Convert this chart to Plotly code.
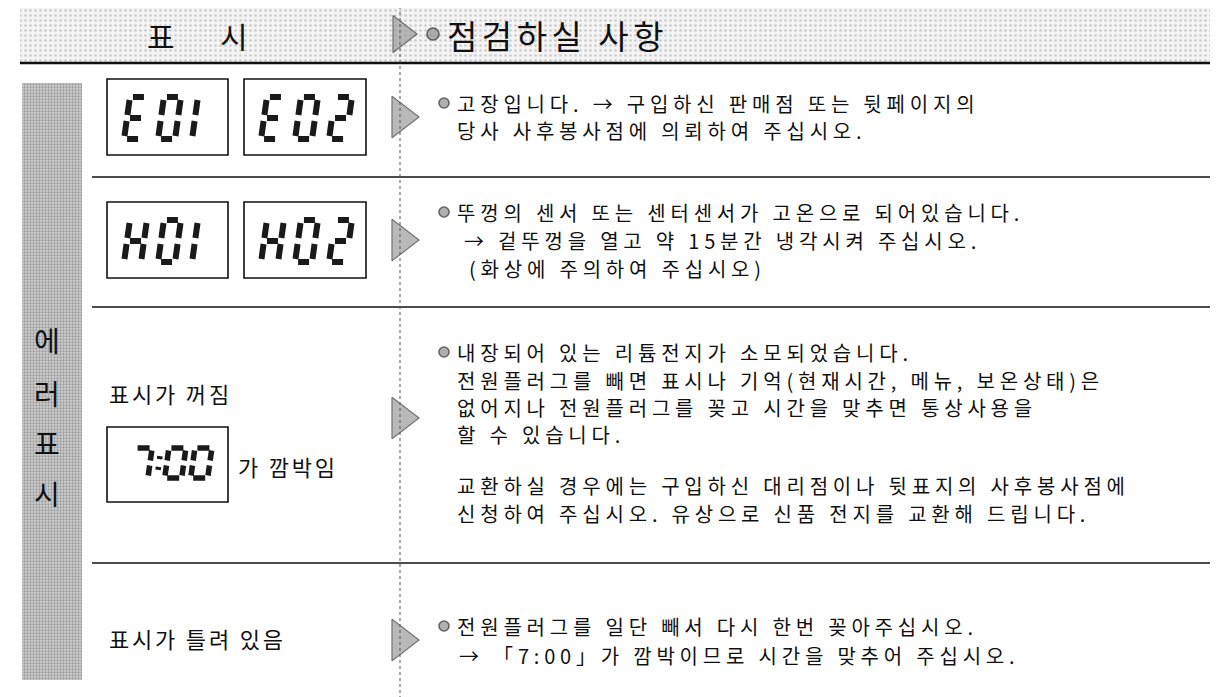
import plotly.graph_objects as go

# ---------------- data (texts) ----------------
header_left = ["표", "시"]
header_right = "점검하실 사항"
band_label = ["에", "러", "표", "시"]

lcd_row1 = ["E01", "E02"]
lcd_row2 = ["H01", "H02"]
lcd_row3 = ["7:00"]

row3_label = "표시가 꺼짐"
row3_suffix = "가 깜박임"
row4_label = "표시가 틀려 있음"

row1_text = ["고장입니다. → 구입하신 판매점 또는 뒷페이지의",
             "당사 사후봉사점에 의뢰하여 주십시오."]
row2_text = ["뚜껑의 센서 또는 센터센서가 고온으로 되어있습니다.",
             "→ 겉뚜껑을 열고 약 15분간 냉각시켜 주십시오.",
             "(화상에 주의하여 주십시오)"]
row3_text = ["내장되어 있는 리튬전지가 소모되었습니다.",
             "전원플러그를 빼면 표시나 기억(현재시간, 메뉴, 보온상태)은",
             "없어지나 전원플러그를 꽂고 시간을 맞추면 통상사용을",
             "할 수 있습니다.",
             "교환하실 경우에는 구입하신 대리점이나 뒷표지의 사후봉사점에",
             "신청하여 주십시오. 유상으로 신품 전지를 교환해 드립니다."]
row4_text = ["전원플러그를 일단 빼서 다시 한번 꽂아주십시오.",
             "→ 「7:00」가 깜박이므로 시간을 맞추어 주십시오."]

# ---------------- layout constants ----------------
W, H = 1222, 697
OFF = 8                      # page body margin: data coords == page pixels
FONT = "Noto Sans CJK KR"
TXT = "#111111"
BODY = 20
BODY_LS = 4.8

fig = go.Figure()

# textured bands (pattern-filled bars)
fig.add_trace(go.Bar(x=[615], y=[57], base=[5], width=[1190],
                     marker=dict(color="#f3f3f3", line=dict(width=0),
                                 pattern=dict(shape=".", fgcolor="#a0a0a0", bgcolor="#f4f4f4",
                                              size=5, solidity=0.22)),
                     hoverinfo="skip", showlegend=False))
fig.add_trace(go.Bar(x=[52], y=[597], base=[83], width=[60],
                     marker=dict(color="#c6c6c6", line=dict(width=0),
                                 pattern=dict(shape=".", fgcolor="#6a6a6a", bgcolor="#cfcfcf",
                                              size=3, solidity=0.45)),
                     hoverinfo="skip", showlegend=False))

shapes = []
def hline(y, x0, x1, w):
    shapes.append(dict(type="line", x0=x0, x1=x1, y0=y, y1=y, line=dict(color="#111", width=w)))

hline(4, 20, 1210, 3)
hline(63, 20, 1210, 2.5)
for y in (177, 307, 563):
    hline(y, 92, 1210, 1.6)
shapes.append(dict(type="line", x0=400, x1=400, y0=0, y1=H,
                   line=dict(color="#555", width=1, dash="dot")))

# LCD boxes
boxes = [(107, 228, 79, 155), (244, 366, 79, 155),
         (107, 228, 202, 278), (244, 366, 202, 278),
         (107, 228, 427, 502)]
for x0, x1, y0, y1 in boxes:
    shapes.append(dict(type="rect", x0=x0, x1=x1, y0=y0, y1=y1,
                       line=dict(color="#111", width=1.6), fillcolor="rgba(0,0,0,0)"))

# seven-segment rendering
SEGS = {"0": "abcdef", "1": "ef", "2": "abged", "7": "abc", "E": "adefg", "H": "bcefg"}
def seven_seg(text, x_start, pitch, yc, w, h, slant=0.14, gap=3):
    xs, ys = [], []
    top, mid, bot = yc - h / 2, yc, yc + h / 2
    def P(u, y, cx):
        return cx + u + slant * (yc - y), y
    cx = x_start
    for ch in text:
        if ch == ":":
            for yy in (yc - h * 0.18, yc + h * 0.18):
                a = P(0, yy - 1.5, cx); b = P(0, yy + 1.5, cx)
                xs += [a[0], b[0], None]; ys += [a[1], b[1], None]
            cx += pitch * 0.3
            continue
        segdef = {
            "a": ((gap, top), (w - gap, top)),
            "b": ((w, top + gap), (w, mid - gap)),
            "c": ((w, mid + gap), (w, bot - gap)),
            "d": ((gap, bot), (w - gap, bot)),
            "e": ((0, mid + gap), (0, bot - gap)),
            "f": ((0, top + gap), (0, mid - gap)),
            "g": ((gap, mid), (w - gap, mid)),
        }
        for s in SEGS.get(ch, ""):
            (u0, y0), (u1, y1) = segdef[s]
            a = P(u0, y0, cx); b = P(u1, y1, cx)
            xs += [a[0], b[0], None]; ys += [a[1], b[1], None]
        cx += pitch
    return xs, ys

lcd_specs = [(lcd_row1[0], 127, 34, 118, 17, 42),
             (lcd_row1[1], 264, 34, 118, 17, 42),
             (lcd_row2[0], 127, 34, 241, 17, 42),
             (lcd_row2[1], 264, 34, 241, 17, 42)]
for t, xs0, p, yc, w, h in lcd_specs:
    xs, ys = seven_seg(t, xs0, p, yc, w, h)
    fig.add_trace(go.Scatter(x=xs, y=ys, mode="lines", line=dict(color="#1a1a1a", width=6),
                             hoverinfo="skip", showlegend=False))
xs, ys = seven_seg(lcd_row3[0], 133, 26, 463, 17, 30, gap=2.5)
fig.add_trace(go.Scatter(x=xs, y=ys, mode="lines", line=dict(color="#1a1a1a", width=5.5),
                         hoverinfo="skip", showlegend=False))

# triangles
tri_y = [34, 117, 240, 418, 640]
fig.add_trace(go.Scatter(x=[401] * len(tri_y), y=tri_y, mode="markers",
                         marker=dict(symbol="triangle-right", size=[32, 36, 36, 36, 36],
                                     color="#9c9c9c", line=dict(color="#3a3a3a", width=1.2)),
                         hoverinfo="skip", showlegend=False))
# bullets
bul_x = [433, 444, 444, 444, 444]
bul_y = [34, 103, 212, 352, 626]
fig.add_trace(go.Scatter(x=bul_x, y=bul_y, mode="markers",
                         marker=dict(symbol="circle", size=[12, 10, 10, 10, 10], color="#8f8f8f",
                                     line=dict(color="#222", width=1.6)),
                         hoverinfo="skip", showlegend=False))

ann = []
def text(x, y, s, size=BODY, anchor="left", ls=None):
    t = s if ls is None else f'<span style="letter-spacing:{ls}px">{s}</span>'
    ann.append(dict(x=x, y=y, text=t, showarrow=False, xanchor=anchor, yanchor="middle",
                    align="left", font=dict(family=FONT, size=size, color=TXT)))

# header
text(161, 35, header_left[0], 30, "center")
text(234, 35, header_left[1], 30, "center")
text(445, 35, header_right, 33, ls=4.5)
# band label
for ch, y in zip(band_label, [340, 393, 443, 493]):
    text(47, y, ch, 28, "center")

# rows (one text per printed line)
for s, y, x in zip(row1_text, [103, 130], [455, 455]):
    text(x, y, s, ls=BODY_LS)
for s, y, x in zip(row2_text, [212, 240, 268], [455, 462, 467]):
    text(x, y, s, ls=BODY_LS)
for s, y in zip(row3_text, [352, 380, 407, 434, 485, 513]):
    text(455, y, s, ls=BODY_LS)
for s, y, x in zip(row4_text, [626, 655], [455, 457]):
    text(x, y, s, ls=BODY_LS)

text(107, 393, row3_label, 22, ls=2.8)
text(236, 466, row3_suffix, 22, ls=2.8)
text(107, 638, row4_label, 22, ls=2.8)

fig.update_layout(
    width=W - OFF, height=H - OFF, margin=dict(l=0, r=0, t=0, b=0),
    paper_bgcolor="white", plot_bgcolor="white",
    xaxis=dict(range=[OFF, W], visible=False, fixedrange=True),
    yaxis=dict(range=[H, OFF], visible=False, fixedrange=True),
    shapes=shapes, annotations=ann, showlegend=False, barmode="overlay",
)

fig.write_html("out.html")
